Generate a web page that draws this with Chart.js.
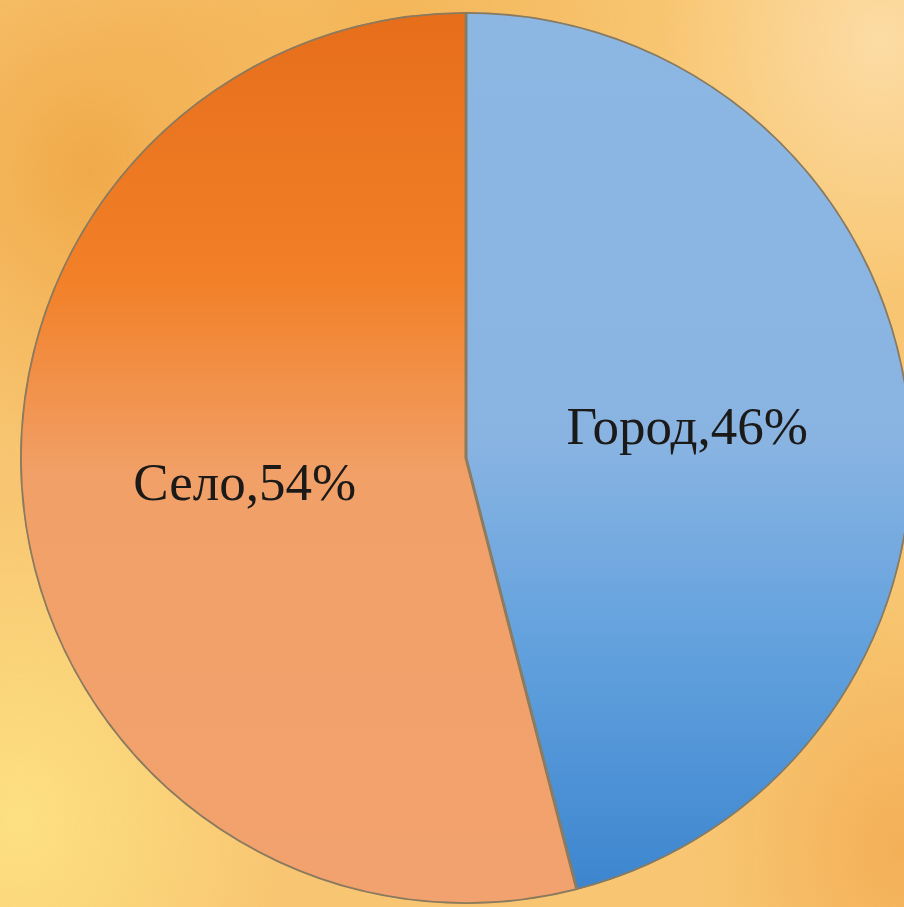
<!DOCTYPE html>
<html>
<head>
<meta charset="utf-8">
<script src="https://cdn.jsdelivr.net/npm/chart.js@4"></script>
<style>
  html, body {
    margin: 0;
    padding: 0;
    width: 904px;
    height: 907px;
    overflow: hidden;
  }
  body {
    background:
      radial-gradient(ellipse 260px 300px at 90px 170px, rgba(238, 160, 60, 0.75), rgba(238, 160, 60, 0) 100%),
      radial-gradient(ellipse 300px 160px at 380px 20px, rgba(240, 170, 70, 0.6), rgba(240, 170, 70, 0) 100%),
      radial-gradient(ellipse 220px 260px at 880px 40px, rgba(252, 222, 170, 0.9), rgba(252, 222, 170, 0) 100%),
      radial-gradient(ellipse 260px 320px at 20px 820px, rgba(253, 226, 130, 0.95), rgba(253, 226, 130, 0) 100%),
      radial-gradient(ellipse 200px 260px at 900px 850px, rgba(242, 170, 80, 0.8), rgba(242, 170, 80, 0) 100%),
      #f8c672;
  }
  #wrap {
    position: absolute;
    left: 0;
    top: 0;
    width: 932px;
    height: 916px;
  }
</style>
</head>
<body>
<div id="wrap"><canvas id="pieChart" width="932" height="916"></canvas></div>
<script>
// Chart data
const categories = ['Город', 'Село'];
const shares = [46, 54];

// Vertical gradients like the original slide
function blueFill(ctx, area) {
  const g = ctx.createLinearGradient(0, area.top, 0, area.bottom);
  g.addColorStop(0, '#8db7e3');
  g.addColorStop(0.48, '#89b4e2');
  g.addColorStop(0.7, '#64a2de');
  g.addColorStop(1, '#3a84ce');
  return g;
}

function orangeFill(ctx, area) {
  const g = ctx.createLinearGradient(0, area.top, 0, area.bottom);
  g.addColorStop(0, '#e66e1b');
  g.addColorStop(0.3, '#f28028');
  g.addColorStop(0.52, '#f1a068');
  g.addColorStop(1, '#f2a26e');
  return g;
}

// Draws "name,value%" inside each slice
const sliceLabels = {
  id: 'sliceLabels',
  afterDatasetsDraw(chart) {
    const { ctx } = chart;
    const meta = chart.getDatasetMeta(0);
    ctx.save();
    ctx.font = '53px "Liberation Serif", "Times New Roman", serif';
    ctx.fillStyle = '#1c1a18';
    ctx.textAlign = 'center';
    ctx.textBaseline = 'middle';
    meta.data.forEach((arc, i) => {
      const pos = arc.tooltipPosition();
      ctx.fillText(categories[i] + ',' + shares[i] + '%', pos.x, pos.y);
    });
    ctx.restore();
  }
};

new Chart(document.getElementById('pieChart'), {
  type: 'pie',
  data: {
    labels: categories,
    datasets: [{
      data: shares,
      backgroundColor: (c) => {
        const area = c.chart.chartArea;
        if (!area) return '#8db7e3';
        return c.dataIndex === 0 ? blueFill(c.chart.ctx, area) : orangeFill(c.chart.ctx, area);
      },
      borderColor: '#8a7a5e',
      borderWidth: 1.5,
      borderAlign: 'inner'
    }]
  },
  options: {
    responsive: false,
    animation: false,
    layout: {
      padding: { top: 12, bottom: 12, left: 20, right: 20 }
    },
    plugins: {
      legend: { display: false },
      tooltip: { enabled: false }
    }
  },
  plugins: [sliceLabels]
});
</script>
</body>
</html>
